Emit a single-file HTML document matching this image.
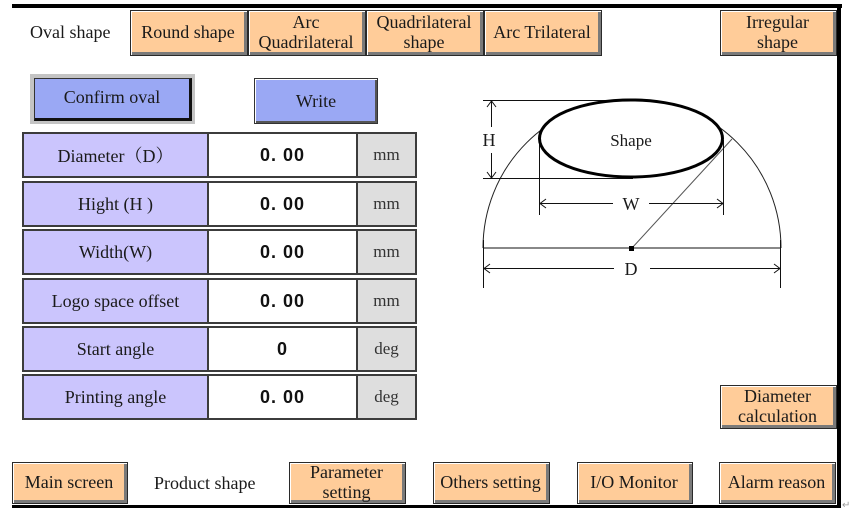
<!DOCTYPE html>
<html>
<head>
<meta charset="utf-8">
<style>
  html,body{margin:0;padding:0;background:#fff;}
  #root{position:relative;width:850px;height:520px;overflow:hidden;background:#fff;
    font-family:"Liberation Serif","Noto Serif CJK SC",serif;color:#1a1a1a;}
  .abs{position:absolute;}
  .btn{position:absolute;box-sizing:border-box;background:#ffcc99;border:1px solid #2a2a2a;
    box-shadow:inset 1px 1px 0 #ffffff, inset -3px -3px 0 #7a7a7a;
    font-size:18px;text-align:center;display:flex;align-items:center;justify-content:center;
    line-height:20px;padding-bottom:2px;padding-right:2px;}
  .blue{background:#9aa8f4;}
  .row{position:absolute;left:22px;width:395px;height:46px;box-sizing:border-box;border:2px solid #3c3c3c;display:flex;}
  .lab{width:183px;background:#cbc5fd;border-right:2px solid #3c3c3c;font-size:18px;
    display:flex;align-items:center;justify-content:center;}
  .val{width:147px;background:#fff;border-right:2px solid #3c3c3c;
    font-family:"Liberation Sans",sans-serif;font-size:18px;font-weight:bold;letter-spacing:1px;
    display:flex;align-items:center;justify-content:center;color:#111;}
  .unit{flex:1;background:#dedede;font-size:17px;display:flex;align-items:center;justify-content:center;color:#333;}
</style>
</head>
<body>
<div id="root">
  <!-- frame -->
  <div class="abs" style="left:12px;top:4px;width:830px;height:4px;background:#000;"></div>
  <div class="abs" style="left:837px;top:4px;width:4px;height:504px;background:#000;"></div>
  <div class="abs" style="left:12px;top:505px;width:829px;height:3px;background:#000;"></div>

  <!-- top tabs -->
  <div class="abs" style="left:30px;top:22px;font-size:18px;">Oval shape</div>
  <div class="btn" style="left:130px;top:10px;width:118px;height:46px;">Round shape</div>
  <div class="btn" style="left:248px;top:10px;width:118px;height:46px;">Arc<br>Quadrilateral</div>
  <div class="btn" style="left:366px;top:10px;width:118px;height:46px;">Quadrilateral<br>shape</div>
  <div class="btn" style="left:484px;top:10px;width:118px;height:46px;">Arc Trilateral</div>
  <div class="btn" style="left:720px;top:10px;width:117px;height:46px;">Irregular<br>shape</div>

  <!-- action buttons -->
  <div class="abs" style="left:30px;top:74px;width:165px;height:50px;box-sizing:border-box;border:3px solid #c4c4c4;background:#c4c4c4;">
    <div style="position:absolute;left:1px;top:1px;right:0;bottom:0;box-sizing:border-box;background:#9aa8f4;border:1px solid #333;border-right:3px solid #111;border-bottom:3px solid #111;
      font-size:18px;display:flex;align-items:center;justify-content:center;padding-bottom:2px;">Confirm oval</div>
  </div>
  <div class="abs" style="left:254px;top:78px;width:124px;height:46px;box-sizing:border-box;background:#9aa8f4;border:1px solid #333;box-shadow:inset 1px 1px 0 #fff, inset -2px -2px 0 #555;
      font-size:18px;display:flex;align-items:center;justify-content:center;">Write</div>

  <!-- table rows -->
  <div class="row" style="top:132px;"><div class="lab">Diameter（D）</div><div class="val">0. 00</div><div class="unit">mm</div></div>
  <div class="row" style="top:181px;"><div class="lab">Hight (H )</div><div class="val">0. 00</div><div class="unit">mm</div></div>
  <div class="row" style="top:229px;"><div class="lab">Width(W)</div><div class="val">0. 00</div><div class="unit">mm</div></div>
  <div class="row" style="top:278px;"><div class="lab">Logo space offset</div><div class="val">0. 00</div><div class="unit">mm</div></div>
  <div class="row" style="top:326px;"><div class="lab">Start angle</div><div class="val">0</div><div class="unit">deg</div></div>
  <div class="row" style="top:374px;"><div class="lab">Printing angle</div><div class="val">0. 00</div><div class="unit">deg</div></div>

  <!-- diagram -->
  <svg class="abs" style="left:0;top:0;" width="850" height="520" viewBox="0 0 850 520">
    <g fill="none" stroke="#111" stroke-width="1">
      <!-- semicircle -->
      <path d="M483,248 A149,149 0 0 1 781,248" stroke="#222"/>
      <!-- diameter line -->
      <line x1="483" y1="248" x2="781" y2="248"/>
      <!-- extension lines -->
      <line x1="483.5" y1="240" x2="483.5" y2="288"/>
      <line x1="780.5" y1="240" x2="780.5" y2="288"/>
      <!-- D dimension -->
      <line x1="484" y1="268.5" x2="614" y2="268.5"/>
      <line x1="650" y1="268.5" x2="780" y2="268.5"/>
      <polyline points="490,264 484,268.5 490,273"/>
      <polyline points="774,264 780,268.5 774,273"/>
      <!-- radius line -->
      <line x1="632" y1="248" x2="732" y2="139" stroke="#555"/>
      <!-- H dimension -->
      <line x1="483" y1="100.5" x2="640" y2="100.5"/>
      <line x1="483" y1="178.5" x2="633" y2="178.5"/>
      <line x1="491.5" y1="101" x2="491.5" y2="127"/>
      <line x1="491.5" y1="153" x2="491.5" y2="178"/>
      <polyline points="487,107 491.5,101 496,107"/>
      <polyline points="487,172 491.5,178 496,172"/>
      <!-- W dimension -->
      <line x1="539.5" y1="138" x2="539.5" y2="215"/>
      <line x1="723.5" y1="140" x2="723.5" y2="215"/>
      <line x1="540" y1="203.5" x2="613" y2="203.5"/>
      <line x1="649" y1="203.5" x2="723" y2="203.5"/>
      <polyline points="546,199 540,203.5 546,208"/>
      <polyline points="717,199 723,203.5 717,208"/>
    </g>
    <!-- ellipse -->
    <ellipse cx="631" cy="138.5" rx="91.5" ry="38.5" fill="#fff" stroke="#000" stroke-width="3"/>
    <rect x="629" y="246" width="5" height="5" fill="#000"/>
    <g font-family="Liberation Serif, serif" font-size="18" fill="#1a1a1a" text-anchor="middle">
      <text x="631" y="146" font-size="17">Shape</text>
      <text x="489" y="146">H</text>
      <text x="631" y="210">W</text>
      <text x="631" y="275">D</text>
    </g>
  </svg>

  <!-- right side buttons -->
  <div class="btn" style="left:720px;top:385px;width:117px;height:44px;">Diameter<br>calculation</div>

  <!-- bottom bar -->
  <div class="btn" style="left:12px;top:462px;width:116px;height:42px;">Main screen</div>
  <div class="abs" style="left:154px;top:473px;font-size:18px;">Product shape</div>
  <div class="btn" style="left:289px;top:462px;width:117px;height:42px;">Parameter<br>setting</div>
  <div class="btn" style="left:433px;top:462px;width:117px;height:42px;">Others setting</div>
  <div class="btn" style="left:577px;top:462px;width:116px;height:42px;">I/O Monitor</div>
  <div class="btn" style="left:719px;top:462px;width:117px;height:42px;">Alarm reason</div>

  <div class="abs" style="left:842px;top:500px;font-size:10px;color:#999;font-family:'Liberation Sans',sans-serif;">↵</div>
</div>
</body>
</html>
